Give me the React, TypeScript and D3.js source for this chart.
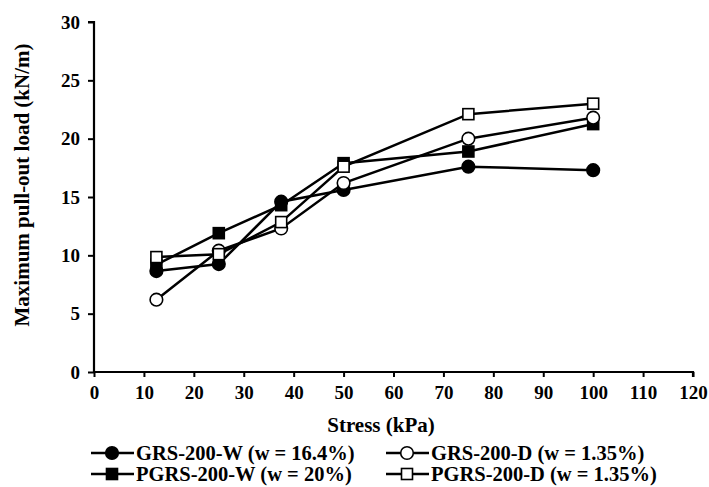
import * as d3 from 'd3';
import { useEffect, useRef } from 'react';

// stress levels (kPa)
const stress = [12.5, 25, 37.5, 50, 75, 100];

// maximum pull-out load (kN/m)
const grsW = [8.65, 9.25, 14.6, 15.6, 17.6, 17.3];
const pgrsW = [9.2, 11.9, 14.3, 17.9, 18.9, 21.25];
const grsD = [6.2, 10.4, 12.3, 16.2, 20.0, 21.8];
const pgrsD = [9.85, 10.1, 12.85, 17.6, 22.1, 23.0];

const xTicks = [0, 10, 20, 30, 40, 50, 60, 70, 80, 90, 100, 110, 120];
const yTicks = [0, 5, 10, 15, 20, 25, 30];

const series = [
  { name: 'GRS-200-W (w = 16.4%)', values: grsW, shape: 'circle', filled: true },
  { name: 'PGRS-200-W (w = 20%)', values: pgrsW, shape: 'square', filled: true },
  { name: 'GRS-200-D (w = 1.35%)', values: grsD, shape: 'circle', filled: false },
  { name: 'PGRS-200-D (w = 1.35%)', values: pgrsD, shape: 'square', filled: false },
];

const W = 709;
const H = 487;
const FONT = '"Liberation Serif", "Times New Roman", serif';

const drawMarker = (g, shape, filled, x, y) => {
  if (shape === 'circle') {
    g.append('circle')
      .attr('cx', x)
      .attr('cy', y)
      .attr('r', 6.3)
      .attr('fill', filled ? '#000' : '#fff')
      .attr('stroke', '#000')
      .attr('stroke-width', 1.6);
  } else {
    const s = 11;
    g.append('rect')
      .attr('x', x - s / 2)
      .attr('y', y - s / 2)
      .attr('width', s)
      .attr('height', s)
      .attr('fill', filled ? '#000' : '#fff')
      .attr('stroke', '#000')
      .attr('stroke-width', 1.6);
  }
};

const App = () => {
  const chartRef = useRef(null);

  useEffect(() => {
    const svg = d3.select(chartRef.current);
    svg.selectAll('*').remove();

    const x = d3.scaleLinear().domain([0, 120]).range([94, 693]);
    const y = d3.scaleLinear().domain([0, 30]).range([372, 22]);

    // y axis
    const yAxis = svg
      .append('g')
      .attr('transform', `translate(${x(0)},0)`)
      .call(d3.axisLeft(y).tickValues(yTicks).tickSize(6).tickPadding(8));
    // x axis
    const xAxis = svg
      .append('g')
      .attr('transform', `translate(0,${y(0)})`)
      .call(d3.axisBottom(x).tickValues(xTicks).tickSize(5).tickPadding(9));

    [xAxis, yAxis].forEach((ax) => {
      ax.select('.domain').attr('stroke', '#000').attr('stroke-width', 2.2);
      ax.selectAll('.tick line').attr('stroke', '#000').attr('stroke-width', 2);
      ax.selectAll('.tick text')
        .attr('fill', '#000')
        .style('font-family', FONT)
        .style('font-weight', 'bold')
        .style('font-size', '19px');
    });
    yAxis.select('.domain').attr('d', `M-6,${y(30)}H0V${y(0)}`);
    xAxis.select('.domain').attr('d', `M${x(0)},0H${x(120)}V5`);

    // axis titles
    svg
      .append('text')
      .attr('x', 381)
      .attr('y', 432)
      .attr('text-anchor', 'middle')
      .style('font-family', FONT)
      .style('font-weight', 'bold')
      .style('font-size', '21px')
      .text('Stress (kPa)');

    svg
      .append('text')
      .attr('transform', `translate(29,185) rotate(-90)`)
      .attr('text-anchor', 'middle')
      .style('font-family', FONT)
      .style('font-weight', 'bold')
      .style('font-size', '21px')
      .text('Maximum pull-out load (kN/m)');

    const line = d3
      .line()
      .x((d) => x(d[0]))
      .y((d) => y(d[1]));

    series.forEach((s) => {
      const pts = stress.map((st, i) => [st, s.values[i]]);
      const g = svg.append('g');
      g.append('path')
        .datum(pts)
        .attr('d', line)
        .attr('fill', 'none')
        .attr('stroke', '#000')
        .attr('stroke-width', 2.5);
      pts.forEach((p) => drawMarker(g, s.shape, s.filled, x(p[0]), y(p[1])));
    });

    // legend
    const legendPos = [
      { x: 91, y: 453 },
      { x: 91, y: 474 },
      { x: 386, y: 453 },
      { x: 386, y: 474 },
    ];
    series.forEach((s, i) => {
      const p = legendPos[i];
      const g = svg.append('g');
      g.append('line')
        .attr('x1', p.x)
        .attr('x2', p.x + 43)
        .attr('y1', p.y)
        .attr('y2', p.y)
        .attr('stroke', '#000')
        .attr('stroke-width', 2.5);
      drawMarker(g, s.shape, s.filled, p.x + 21, p.y);
      g.append('text')
        .attr('x', p.x + 45)
        .attr('y', p.y + 7)
        .style('font-family', FONT)
        .style('font-weight', 'bold')
        .style('font-size', '20.5px')
        .text(s.name);
    });
  }, []);

  return (
    <div style={{ position: 'absolute', left: 0, top: 0 }}>
      <svg ref={chartRef} width={W} height={H} style={{ display: 'block', background: '#fff' }}></svg>
    </div>
  );
};

export default App;
